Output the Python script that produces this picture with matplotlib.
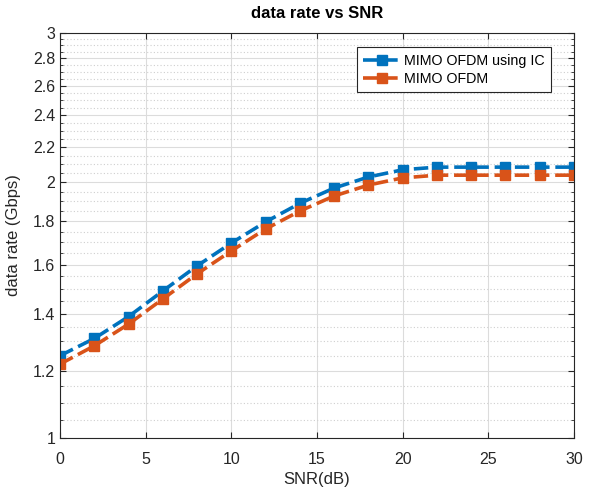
import numpy as np
import matplotlib
matplotlib.use("Agg")
import matplotlib.pyplot as plt
from matplotlib.ticker import FixedLocator, FixedFormatter, NullFormatter

plt.rcParams['font.family'] = ['Liberation Sans', 'DejaVu Sans']

snr = [0, 2, 4, 6, 8, 10, 12, 14, 16, 18, 20, 22, 24, 26, 28, 30]
rate_ic = [1.25, 1.31, 1.39, 1.49, 1.595, 1.697, 1.797, 1.89, 1.97, 2.03, 2.07,
           2.085, 2.085, 2.085, 2.085, 2.085]
rate_plain = [1.222, 1.284, 1.362, 1.458, 1.561, 1.661, 1.763, 1.851, 1.928, 1.986,
              2.025, 2.04, 2.04, 2.04, 2.04, 2.04]

y_major = [1, 1.2, 1.4, 1.6, 1.8, 2, 2.2, 2.4, 2.6, 2.8, 3]
y_major_labels = ['1', '1.2', '1.4', '1.6', '1.8', '2', '2.2', '2.4', '2.6', '2.8', '3']

fig = plt.figure(figsize=(5.9, 4.9), dpi=100)
ax = fig.add_axes([60 / 590, 52 / 490, 514 / 590, 405 / 490])

ax.plot(snr, rate_ic, color='#0072BD', lw=2.6, ls='--', dashes=(4, 1.6),
        marker='s', ms=6.5, label='MIMO OFDM using IC')
ax.plot(snr, rate_plain, color='#D95319', lw=2.6, ls='--', dashes=(4, 1.6),
        marker='s', ms=6.5, label='MIMO OFDM')

ax.set_yscale('log')
ax.set_ylim(1, 3)
ax.set_xlim(0, 30)
ax.yaxis.set_major_locator(FixedLocator(y_major))
ax.yaxis.set_major_formatter(FixedFormatter(y_major_labels))
minor = [round(v, 2) for v in np.arange(1.0, 3.0001, 0.05)]
minor = [v for v in minor if round(v * 10) % 2 != 0 or abs(v * 10 - round(v * 10)) > 1e-6]
ax.yaxis.set_minor_locator(FixedLocator(minor))
ax.yaxis.set_minor_formatter(NullFormatter())
ax.set_xticks([0, 5, 10, 15, 20, 25, 30])

ax.grid(True, which='major', color='#dcdcdc', lw=0.8, ls='-')
ax.grid(True, which='minor', axis='y', color='#cfcfcf', lw=0.8, ls=(0, (1, 2)))
ax.set_axisbelow(True)

ax.tick_params(which='both', direction='in', top=True, right=True,
               labelsize=11.5, colors='#262626')
ax.tick_params(axis='x', which='major', pad=10)
ax.tick_params(which='major', length=4)
ax.tick_params(which='minor', length=2)
for s in ax.spines.values():
    s.set_color('#262626')
    s.set_linewidth(0.8)

ax.set_title('data rate vs SNR', fontsize=12, fontweight='bold', pad=11)
ax.set_xlabel('SNR(dB)', fontsize=12, color='#262626', labelpad=4)
ax.set_ylabel('data rate (Gbps)', fontsize=12, color='#262626')
ax.yaxis.set_label_coords(-0.076, 0.5)

leg = ax.legend(loc='upper right', bbox_to_anchor=(0.955, 0.965), fontsize=10.3,
                fancybox=False, framealpha=1, edgecolor='#262626',
                handlelength=2.6, borderpad=0.45, labelspacing=0.3,
                handletextpad=0.25, borderaxespad=0)
leg.get_frame().set_linewidth(0.8)

fig.savefig('out.png', dpi=100)
